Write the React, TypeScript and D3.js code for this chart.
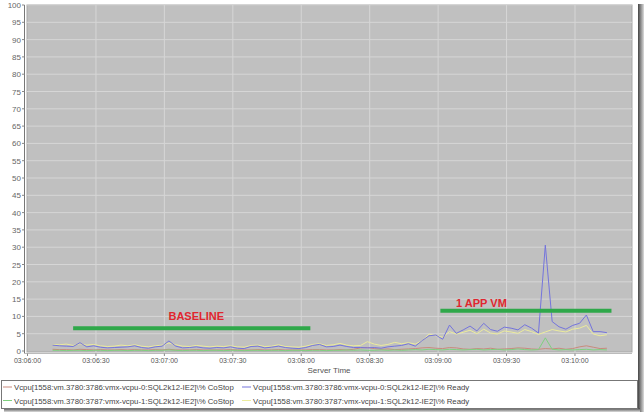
import React from 'react';
import * as d3 from 'd3';

// sample timestamps (3 s interval)
const sampleTimes = [
    "03:06:11", "03:06:14", "03:06:17", "03:06:20", "03:06:23", "03:06:26", "03:06:29", "03:06:32", "03:06:35",
    "03:06:38", "03:06:41", "03:06:44", "03:06:47", "03:06:50", "03:06:53", "03:06:56", "03:06:59",
    "03:07:02", "03:07:05", "03:07:08", "03:07:11", "03:07:14", "03:07:17", "03:07:20", "03:07:23", "03:07:26",
    "03:07:29", "03:07:32", "03:07:35", "03:07:38", "03:07:41", "03:07:44", "03:07:47", "03:07:50", "03:07:53",
    "03:07:56", "03:07:59",
    "03:08:02", "03:08:05", "03:08:08", "03:08:11", "03:08:14", "03:08:17", "03:08:20", "03:08:23", "03:08:26",
    "03:08:29", "03:08:32", "03:08:35", "03:08:38", "03:08:41", "03:08:44", "03:08:47", "03:08:50", "03:08:53",
    "03:08:56", "03:08:59",
    "03:09:02", "03:09:05", "03:09:08", "03:09:11", "03:09:14", "03:09:17", "03:09:20", "03:09:23", "03:09:26",
    "03:09:29", "03:09:32", "03:09:35", "03:09:38", "03:09:41", "03:09:44", "03:09:47", "03:09:50", "03:09:53",
    "03:09:56", "03:09:59",
    "03:10:02", "03:10:05", "03:10:08", "03:10:11", "03:10:14"
];

const costopVcpu0 = [
    0.5, 0.4, 0.4, 0.3, 0.5, 0.4, 0.3, 0.4, 0.3, 0.3, 0.4, 0.3, 0.4, 0.3, 0.3, 0.4, 0.3,
    0.5, 0.3, 0.3, 0.3, 0.4, 0.3, 0.3, 0.3, 0.3, 0.4, 0.3, 0.3, 0.3, 0.4, 0.3, 0.3, 0.4, 0.3, 0.3, 0.3,
    0.3, 0.4, 0.4, 0.3, 0.3, 0.4, 0.3, 0.5, 0.9, 1.0, 0.7, 0.5, 0.6, 0.4, 0.5, 0.6, 0.7, 0.9, 1.0, 0.8,
    0.7, 1.0, 0.9, 0.6, 0.5, 0.7, 0.6, 0.8, 0.5, 0.6, 0.7, 0.9, 0.8, 0.6, 0.5, 0.7, 0.6, 0.8, 0.5, 0.7,
    1.2, 1.5, 1.1, 0.7, 0.8
];

const readyVcpu0 = [
    1.7, 1.5, 1.4, 1.3, 2.4, 1.2, 1.5, 1.1, 0.9, 1.0, 1.1, 1.2, 1.5, 1.0, 0.8, 1.2, 1.4,
    2.9, 1.4, 0.9, 1.0, 1.2, 0.9, 0.8, 1.0, 0.9, 1.2, 0.8, 0.7, 1.3, 1.4, 0.9, 1.1, 1.4, 1.0, 0.8, 0.7,
    1.0, 1.6, 1.9, 1.2, 1.3, 1.7, 1.3, 1.0, 1.0, 0.9, 1.0, 0.8, 1.2, 1.4, 1.6, 2.1, 1.4, 3.0, 4.4, 4.6,
    3.4, 7.5, 5.1, 6.1, 7.2, 5.8, 8.0, 6.2, 5.7, 6.9, 6.6, 6.1, 7.6, 6.6, 5.2, 30.6, 8.5, 7.0, 6.3, 7.4,
    8.0, 10.4, 5.6, 5.6, 5.3
];

const costopVcpu1 = [
    0.2, 0.2, 0.1, 0.2, 0.2, 0.1, 0.2, 0.2, 0.1, 0.2, 0.2, 0.1, 0.2, 0.2, 0.1, 0.2, 0.2,
    0.3, 0.2, 0.1, 0.2, 0.2, 0.1, 0.2, 0.2, 0.1, 0.2, 0.2, 0.1, 0.2, 0.2, 0.1, 0.2, 0.2, 0.1, 0.2, 0.2,
    0.1, 0.2, 0.2, 0.1, 0.2, 0.2, 0.3, 0.2, 0.3, 0.2, 0.2, 0.3, 0.2, 0.3, 0.2, 0.3, 0.4, 0.3, 0.5, 0.4,
    0.3, 0.5, 0.4, 0.3, 0.4, 0.5, 0.3, 0.4, 0.5, 0.3, 0.4, 0.6, 0.4, 0.3, 0.4, 3.8, 0.5, 0.3, 0.4, 0.3,
    0.4, 0.5, 0.3, 0.4, 0.3
];

const readyVcpu1 = [
    1.9, 1.8, 2.0, 1.6, 2.1, 1.7, 1.9, 1.5, 1.3, 1.4, 1.7, 1.5, 1.8, 1.4, 1.2, 1.5, 1.7,
    2.3, 1.8, 1.4, 1.3, 1.6, 1.4, 1.2, 1.4, 1.3, 1.5, 1.2, 1.1, 1.6, 1.7, 1.3, 1.4, 1.8, 1.3, 1.2, 1.1,
    1.4, 1.9, 2.1, 1.6, 1.8, 2.2, 1.7, 1.5, 1.6, 2.7, 2.0, 1.6, 1.9, 2.5, 2.1, 2.4, 2.0, 3.0, 4.9, 4.4,
    4.0, 5.6, 4.9, 5.4, 6.0, 5.0, 6.3, 5.2, 4.9, 5.8, 5.5, 5.1, 6.2, 5.6, 4.8, 5.5, 6.2, 5.8, 5.5, 6.3,
    6.6, 7.4, 4.9, 4.4, 4.7
];

const seriesNames = [
    "Vcpu[1558:vm.3780:3786:vmx-vcpu-0:SQL2k12-IE2]\\% CoStop",
    "Vcpu[1558:vm.3780:3786:vmx-vcpu-0:SQL2k12-IE2]\\% Ready",
    "Vcpu[1558:vm.3780:3787:vmx-vcpu-1:SQL2k12-IE2]\\% CoStop",
    "Vcpu[1558:vm.3780:3787:vmx-vcpu-1:SQL2k12-IE2]\\% Ready"
];
const seriesValues = [costopVcpu0, readyVcpu0, costopVcpu1, readyVcpu1];
const seriesColors = ["#c98a7c", "#7474dc", "#7fd07f", "#ecec9c"];
const drawOrder = [3, 0, 2, 1];

const yTicks = d3.range(0, 101, 5);

// hand drawn annotations on the screenshot
const noteLabels = ["BASELINE", "1 APP VM"];
const noteStarts = ["03:06:20", "03:09:01"];
const noteEnds = ["03:08:04", "03:10:16"];
const noteLevels = [6.6, 11.6];
const noteLabelTimes = ["03:07:14", "03:09:19"];
const noteLabelLevels = [8.9, 12.7];

const W = 644;
const H = 412;
const plot = {left: 27, right: 632, top: 5, bottom: 352};
const font = "'Liberation Sans', Arial, sans-serif";

const parseTime = d3.timeParse("%H:%M:%S");
const fmtTime = d3.timeFormat("%H:%M:%S");

const App: React.FC = () => {
    const x = d3.scaleTime()
        .domain([parseTime("03:06:00")!, parseTime("03:10:25")!])
        .range([27.5, 632]);
    const y = d3.scaleLinear().domain([0, 100]).range([351, 5]);
    const times = sampleTimes.map(t => parseTime(t)!);
    const xTicks = x.ticks(d3.timeSecond.every(30)!);

    const line = d3.line<number>()
        .x((_, i) => x(times[i]))
        .y(d => y(d));

    return (
        <div style={{position: "absolute", left: 0, top: 0}}>
            <svg width={W} height={H} style={{display: "block"}}>
                <defs>
                    <linearGradient id="shadowR" x1="0" x2="1" y1="0" y2="0">
                        <stop offset="0" stopColor="#444"/>
                        <stop offset="1" stopColor="#ddd"/>
                    </linearGradient>
                    <linearGradient id="shadowB" x1="0" x2="0" y1="0" y2="1">
                        <stop offset="0" stopColor="#444"/>
                        <stop offset="1" stopColor="#ddd"/>
                    </linearGradient>
                </defs>
                <rect x={0} y={0} width={W} height={H} fill="#fff"/>
                <rect x={638} y={4} width={6} height={H - 4} fill="url(#shadowR)"/>
                <rect x={4} y={408} width={636} height={4} fill="url(#shadowB)"/>

                {/* plot area */}
                <rect x={plot.left} y={plot.top} width={plot.right - plot.left}
                      height={plot.bottom - plot.top} fill="#c0c0c0" stroke="#a8a8a8"/>
                {yTicks.slice(1).map(v => (
                    <line key={"gy" + v} x1={plot.left} x2={plot.right} y1={y(v)} y2={y(v)}
                          stroke="#d6d6d6" strokeWidth={1}/>
                ))}
                {xTicks.slice(1).map(t => (
                    <line key={"gx" + t.getTime()} x1={x(t)} x2={x(t)} y1={plot.top} y2={plot.bottom}
                          stroke="#d6d6d6" strokeWidth={1}/>
                ))}

                {/* axes */}
                <line x1={24.5} x2={24.5} y1={plot.top} y2={353.5} stroke="#777"/>
                <line x1={24.5} x2={plot.right} y1={353.5} y2={353.5} stroke="#bbb"/>
                {yTicks.map(v => (
                    <g key={"yt" + v}>
                        <line x1={22} x2={24.5} y1={y(v)} y2={y(v)} stroke="#888"/>
                        <text x={21} y={y(v) + 3} textAnchor="end" fontFamily={font} fontSize={8}
                              fill="#666">{v}</text>
                    </g>
                ))}
                {xTicks.map(t => (
                    <g key={"xt" + t.getTime()}>
                        <line x1={x(t)} x2={x(t)} y1={353.5} y2={356} stroke="#888"/>
                        <text x={x(t)} y={362.5} textAnchor="middle" fontFamily={font} fontSize={7}
                              fill="#555">{fmtTime(t)}</text>
                    </g>
                ))}
                <text x={329} y={373} textAnchor="middle" fontFamily={font} fontSize={8}
                      fill="#555">Server Time</text>

                {/* series */}
                {drawOrder.map(i => (
                    <path key={"s" + i} d={line(seriesValues[i]) || ""} fill="none"
                          stroke={seriesColors[i]} strokeWidth={1}/>
                ))}

                {/* annotations */}
                {noteLabels.map((label, i) => (
                    <g key={"n" + i}>
                        <line x1={x(parseTime(noteStarts[i])!)} x2={x(parseTime(noteEnds[i])!)}
                              y1={y(noteLevels[i])} y2={y(noteLevels[i])}
                              stroke="#2fa84a" strokeWidth={4}/>
                        <text x={x(parseTime(noteLabelTimes[i])!)} y={y(noteLabelLevels[i])}
                              textAnchor="middle" fontFamily={font} fontSize={11} fontWeight="bold"
                              fill="#e0262e">{label}</text>
                    </g>
                ))}

                {/* legend */}
                <rect x={1.5} y={380.5} width={636} height={28} fill="#fff" stroke="#777"/>
                {seriesNames.map((name, i) => {
                    const col = i % 2;
                    const row = Math.floor(i / 2);
                    const lx = col === 0 ? 3 : 242;
                    const ly = row === 0 ? 387 : 400.5;
                    return (
                        <g key={"l" + i}>
                            <line x1={lx} x2={lx + 9} y1={ly} y2={ly} stroke={seriesColors[i]}/>
                            <text x={lx + 11} y={ly + 3} fontFamily={font} fontSize={7.8}
                                  fill="#444">{name}</text>
                        </g>
                    );
                })}
            </svg>
        </div>
    );
};

export default App;
